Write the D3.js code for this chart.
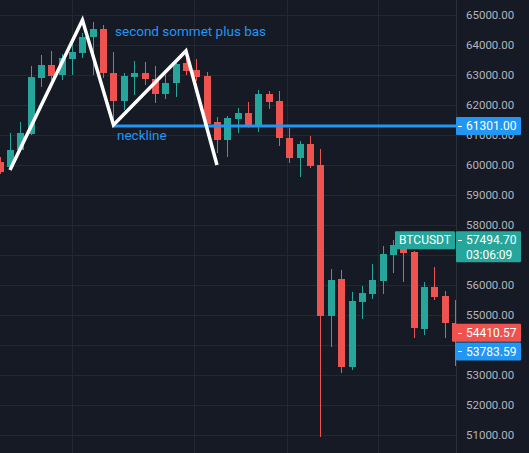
<!DOCTYPE html>
<html><head><meta charset="utf-8">
<script src="https://cdn.jsdelivr.net/npm/d3@7"></script>
<style>html,body{margin:0;padding:0;background:#161a25;overflow:hidden}</style>
</head><body>
<svg id="c" width="529" height="453"></svg>
<script>
// ---- data ----
const openP  = [60100,59933,60500,61033,62900,63333,63000,63533,63733,64267,64533,63067,62133,62933,63067,62867,62367,62733,63400,63167,62967,61433,60833,61533,61733,61333,62367,62133,60900,60233,60700,60000,54967,56200,53267,55433,55700,56133,57000,57233,57100,54533,55933,55633,54733];
const highP  = [60267,61067,61433,63300,63667,63800,63700,64067,64400,64767,64667,63767,63067,63467,63433,63300,63000,63500,63700,63533,63100,61600,61633,61900,62100,62500,62467,62467,61233,60800,60967,60533,56533,56500,55767,55967,56700,57300,57500,57400,57133,56100,56600,55800,55500];
const lowP   = [59700,59833,60450,61000,62600,62833,62833,63000,63567,63000,62900,61367,61833,62333,62667,62067,62200,62267,63000,62800,61300,60400,60267,61067,61250,61100,61867,60633,60067,59600,59900,50933,53933,53067,53167,54867,55533,55700,56400,56100,54233,54333,55500,54233,53300];
const closeP = [59767,60500,61067,62933,63333,62967,63567,63767,64267,64533,63067,62133,62967,63067,62867,62367,62733,63367,63133,62933,61367,60833,61567,61733,61333,62367,62100,60900,60233,60700,59967,54967,56167,53267,55467,55733,56167,57033,57333,57067,54567,55933,55600,54733,54410.57];
const priceTicks = [51000,52000,53000,54000,55000,56000,57000,58000,59000,60000,61000,62000,63000,64000,65000];
const hiddenTickLabels = [54000, 57000]; // covered by the price boxes in the reference
const timeGrid = [6.96, 18.8, 27.73, 36.53];
const patternIdx   = [1, 8, 11, 18, 21];
const patternPrice = [59833, 64833, 61333, 63800, 60000];
const necklineStart = 11;
const necklinePrice = 61301.00;
const symbolPrice = 57494.70;
const symbolTimer = "03:06:09";
const lastPrice = 54410.57;
const bluePrice2 = 53783.59;
const annotTop = "second sommet plus bas";
const annotNeck = "neckline";

// ---- chart ----
const W = 529, H = 453, paneR = 456;
const UP = "#26a69a", DN = "#ef5350", BLUE = "#2196f3";
const svg = d3.select("#c");
svg.append("rect").attr("width", W).attr("height", H).attr("fill", "#161a25");

const x = d3.scaleLinear().domain([0, 44]).range([-0.35, 455]);
const y = d3.scaleLinear().domain([51000, 65000]).range([435, 15]);

svg.append("clipPath").attr("id", "pane").append("rect")
  .attr("x", 0).attr("y", 0).attr("width", paneR).attr("height", H);

const g = svg.append("g").attr("clip-path", "url(#pane)");
// grid
g.selectAll("line.h").data(priceTicks).join("line")
  .attr("x1", 0).attr("x2", paneR)
  .attr("y1", d => Math.round(y(d)) + 0.5).attr("y2", d => Math.round(y(d)) + 0.5)
  .attr("stroke", "#242833").attr("stroke-width", 1);
g.selectAll("line.v").data(timeGrid).join("line")
  .attr("y1", 0).attr("y2", H)
  .attr("x1", d => Math.round(x(d)) + 0.5).attr("x2", d => Math.round(x(d)) + 0.5)
  .attr("stroke", "#242833").attr("stroke-width", 1);

// candles
const idx = d3.range(openP.length);
const col = i => closeP[i] >= openP[i] ? UP : DN;
g.selectAll("line.wick").data(idx).join("line")
  .attr("x1", i => Math.round(x(i)) + 0.5).attr("x2", i => Math.round(x(i)) + 0.5)
  .attr("y1", i => y(highP[i])).attr("y2", i => y(lowP[i]))
  .attr("stroke", col).attr("stroke-width", 1);
g.selectAll("rect.body").data(idx).join("rect")
  .attr("x", i => Math.round(x(i)) - 3).attr("width", 7)
  .attr("y", i => y(Math.max(openP[i], closeP[i])))
  .attr("height", i => Math.max(1, Math.abs(y(openP[i]) - y(closeP[i]))))
  .attr("fill", col);

// neckline
g.append("line").attr("x1", x(necklineStart)).attr("x2", paneR)
  .attr("y1", y(necklinePrice)).attr("y2", y(necklinePrice))
  .attr("stroke", BLUE).attr("stroke-width", 3);

// pattern zigzag
g.append("path")
  .attr("d", d3.line().x(i => x(patternIdx[i])).y(i => y(patternPrice[i]))(d3.range(patternIdx.length)))
  .attr("fill", "none").attr("stroke", "#ffffff").attr("stroke-width", 3.5)
  .attr("stroke-linejoin", "miter").attr("stroke-linecap", "butt");

// annotations
svg.append("text").attr("x", 115).attr("y", 36).text(annotTop)
  .attr("fill", BLUE).attr("font-family", "Roboto, sans-serif").attr("font-size", 13.5);
svg.append("text").attr("x", 117).attr("y", 140).text(annotNeck)
  .attr("fill", BLUE).attr("font-family", "Roboto, sans-serif").attr("font-size", 13.5);

// price axis
svg.append("line").attr("x1", paneR + 0.5).attr("x2", paneR + 0.5).attr("y1", 0).attr("y2", H)
  .attr("stroke", "#2a2e39");
svg.selectAll("text.tick").data(priceTicks.filter(d => !hiddenTickLabels.includes(d))).join("text")
  .attr("x", 466).attr("y", d => y(d)).attr("dy", "0.35em")
  .text(d => d3.format(".2f")(d))
  .attr("fill", "#b2b5be").attr("font-family", "Roboto, sans-serif").attr("font-size", 11.5);

function priceLabel(p, color, x0, lines) {
  const h = lines.length > 1 ? 31 : 18;
  const yc = y(p);
  svg.append("rect").attr("x", x0).attr("y", yc - 9).attr("width", 521 - x0).attr("height", h)
    .attr("fill", color).attr("rx", 1);
  svg.append("line").attr("x1", 458).attr("x2", 462).attr("y1", Math.round(yc) + 0.5).attr("y2", Math.round(yc) + 0.5)
    .attr("stroke", "#ffffff").attr("stroke-width", 1);
  lines.forEach((t, k) => {
    svg.append("text").attr("x", 466).attr("y", yc + k * 15).attr("dy", "0.35em").text(t)
      .attr("fill", "#ffffff").attr("font-family", "Roboto, sans-serif").attr("font-size", 12);
  });
}
priceLabel(necklinePrice, BLUE, 456, [d3.format(".2f")(necklinePrice)]);
priceLabel(symbolPrice, UP, 456, [d3.format(".2f")(symbolPrice), symbolTimer]);
priceLabel(lastPrice, DN, 452, [d3.format(".2f")(lastPrice)]);
priceLabel(bluePrice2, BLUE, 456, [d3.format(".2f")(bluePrice2)]);

// symbol tag
const ys = y(symbolPrice);
svg.append("rect").attr("x", 395).attr("y", ys - 9).attr("width", 60).attr("height", 18).attr("fill", UP).attr("rx", 1);
svg.append("text").attr("x", 425).attr("y", ys).attr("dy", "0.35em").attr("text-anchor", "middle")
  .text("BTCUSDT").attr("fill", "#ffffff").attr("font-family", "Roboto, sans-serif").attr("font-size", 12);
</script>
</body></html>
